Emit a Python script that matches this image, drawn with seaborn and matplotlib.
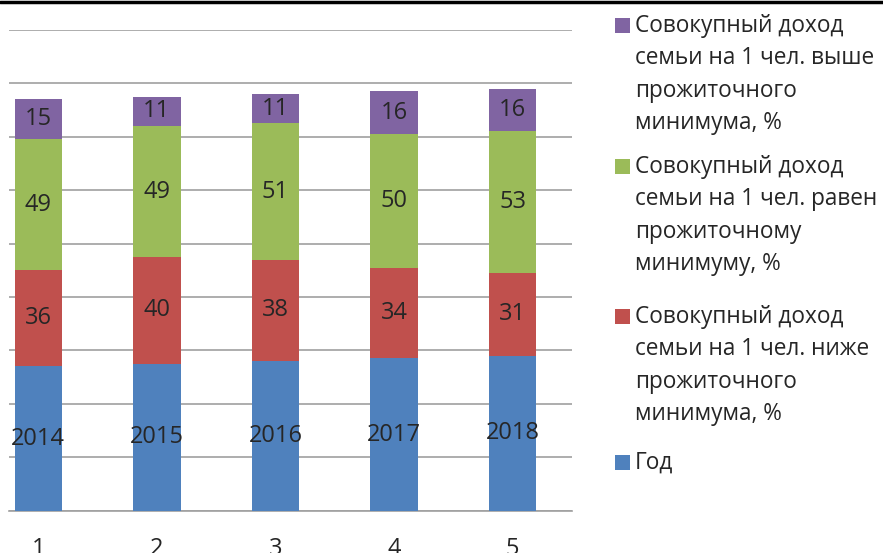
import numpy as np
import pandas as pd
import matplotlib
matplotlib.use('Agg')
import matplotlib.pyplot as plt
import seaborn as sns
from matplotlib.patches import Rectangle
from matplotlib.lines import Line2D

# Data
positions = [1, 2, 3, 4, 5]
years = [2014, 2015, 2016, 2017, 2018]
below_min = [36, 40, 38, 34, 31]
equal_min = [49, 49, 51, 50, 53]
above_min = [15, 11, 11, 16, 16]

labels = [
    'Совокупный доход\nсемьи на 1 чел. выше\nпрожиточного\nминимума, %',
    'Совокупный доход\nсемьи на 1 чел. равен\nпрожиточному\nминимуму, %',
    'Совокупный доход\nсемьи на 1 чел. ниже\nпрожиточного\nминимума, %',
    'Год',
]
colors = ['#8064A2', '#9BBB59', '#C0504D', '#4F81BD']

sns.set_style('white')
plt.rcParams['font.family'] = ['Open Sans', 'DejaVu Sans']

df = pd.DataFrame({'pos': positions, 'year': years, 'below': below_min,
                   'equal': equal_min, 'above': above_min})
df['c_year'] = df['year']
df['c_below'] = df['c_year'] + df['below']
df['c_equal'] = df['c_below'] + df['equal']
df['c_above'] = df['c_equal'] + df['above']

fig = plt.figure(figsize=(8.83, 5.53), dpi=100)
W, H = 883, 553
ax = fig.add_axes([9 / W, (H - 510.7) / H, (572 - 9) / W, (510.7 - 30) / H])

# stacked bars drawn back to front
for col, c in zip(['c_above', 'c_equal', 'c_below', 'c_year'], colors):
    sns.barplot(data=df, x='pos', y=col, native_scale=True, color=c,
                width=0.4, saturation=1, edgecolor='none', ax=ax, zorder=3)

ymin, ymax = 1960, 2140
ax.set_ylim(ymin, ymax)
ax.set_xlim(0.5 + 30 / 118.6, 5.5)

# data labels
fs = 17
for i, p in enumerate(positions):
    ax.text(p, (ymin + years[i]) / 2, str(years[i]), ha='center', va='center', fontsize=fs, zorder=5)
    ax.text(p, years[i] + below_min[i] / 2, str(below_min[i]), ha='center', va='center', fontsize=fs, zorder=5)
    ax.text(p, df['c_below'][i] + equal_min[i] / 2, str(equal_min[i]), ha='center', va='center', fontsize=fs, zorder=5)
    ax.text(p, df['c_equal'][i] + above_min[i] / 2, str(above_min[i]), ha='center', va='center', fontsize=fs, zorder=5)

# grid and axes
ax.set_yticks(np.arange(1960, 2141, 20))
ax.set_yticklabels([])
ax.tick_params(axis='y', length=0)
ax.yaxis.grid(True, color='#A0A0A0', linewidth=1.2, zorder=0)
ax.set_axisbelow(True)
for s in ['left', 'right', 'top']:
    ax.spines[s].set_visible(False)
ax.spines['bottom'].set_color('#A0A0A0')
ax.spines['bottom'].set_linewidth(1.2)
ax.set_xticks(positions)
ax.set_xticklabels([str(p) for p in positions], fontsize=fs)
ax.set_xticks([1.5, 2.5, 3.5, 4.5, 5.5], minor=True)
ax.tick_params(axis='x', which='major', length=0, pad=19)
ax.tick_params(axis='x', which='minor', length=6.5, width=1.2, color='#A0A0A0', direction='out')
ax.set_xlabel('')
ax.set_ylabel('')

# legend (square aligned with the first line of each label)
lfs = 16.3
first_line_y = [25, 166, 316, 462]
for lab, c, yc in zip(labels, colors, first_line_y):
    fig.add_artist(Rectangle((615 / W, 1 - (yc + 7.5) / H), 15 / W, 15 / H,
                             facecolor=c, edgecolor='none', transform=fig.transFigure))
    fig.text(635 / W, 1 - (yc - 11) / H, lab, ha='left', va='top',
             fontsize=lfs, linespacing=1.46)

# top frame line
fig.add_artist(Line2D([0, 1], [1 - 1.5 / H, 1 - 1.5 / H], color='black', linewidth=2.5,
                      transform=fig.transFigure))

fig.savefig('out.png', dpi=100)
